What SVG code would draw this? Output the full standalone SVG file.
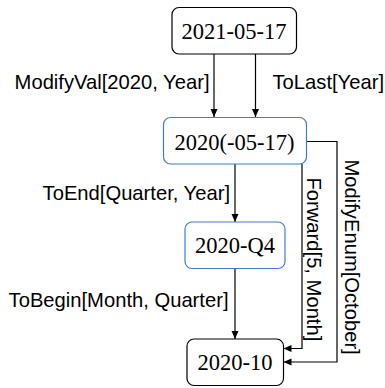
<svg xmlns="http://www.w3.org/2000/svg" width="385" height="388" viewBox="0 0 385 388">
<style>
.box{fill:#fff;stroke:#000;stroke-width:1.2}
.blue{stroke:#3f7fc5}
.nt{font-family:"Liberation Serif","Times New Roman",serif;font-size:22.5px;fill:#000;text-anchor:middle}
.lb{font-family:"Liberation Sans",Arial,sans-serif;font-size:20.2px;fill:#000}
.e{fill:none;stroke:#000;stroke-width:1.2;marker-end:url(#ah)}
</style>
<defs>
<marker id="ah" markerUnits="userSpaceOnUse" markerWidth="9" markerHeight="8" refX="8" refY="3.5" orient="auto">
<path d="M0,0 L8,3.5 L0,7 z" fill="#000"/>
</marker>
</defs>
<rect width="385" height="388" fill="#fff"/>
<g id="connectors">
<path class="e" d="M214,54 V117"/>
<path class="e" d="M255.5,54 V117"/>
<path class="e" d="M235,164 V222"/>
<path class="e" d="M235,268.5 V339"/>
<path class="e" d="M302,164 V348.5 H283.5"/>
<path class="e" d="M306.5,141.5 H337 V362 H283.5"/>
<text class="lb" x="209.5" y="89" text-anchor="end">ModifyVal[2020, Year]</text>
<text class="lb" x="384" y="89" text-anchor="end">ToLast[Year]</text>
<text class="lb" x="230" y="200" text-anchor="end">ToEnd[Quarter, Year]</text>
<text class="lb" x="228.5" y="306.5" text-anchor="end">ToBegin[Month, Quarter]</text>
<text class="lb" transform="translate(306.5,177.5) rotate(90)">Forward[5, Month]</text>
<text class="lb" transform="translate(345,159.5) rotate(90)">ModifyEnum[October]</text>
</g>
<g id="n1">
<rect class="box" x="172" y="7.5" width="124.5" height="46.5" rx="7"/>
<text class="nt" x="234" y="38.5">2021-05-17</text>
</g>
<g id="n2">
<rect class="box blue" x="163.5" y="117.5" width="143" height="46.5" rx="7"/>
<text class="nt" x="234.5" y="150">2020(-05-17)</text>
</g>
<g id="n3">
<rect class="box blue" x="185" y="222" width="100" height="46.5" rx="7"/>
<text class="nt" x="235" y="253">2020-Q4</text>
</g>
<g id="n4">
<rect class="box" x="187" y="339" width="96.5" height="46.5" rx="7"/>
<text class="nt" x="235" y="370">2020-10</text>
</g>
</svg>
